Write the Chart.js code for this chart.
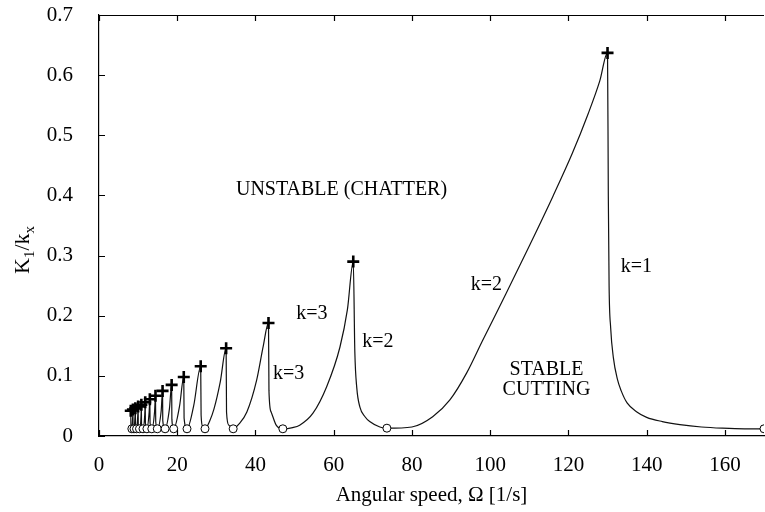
<!DOCTYPE html>
<html>
<head>
<meta charset="utf-8">
<script src="https://cdn.jsdelivr.net/npm/chart.js@4"></script>
<style>
  body { margin: 0; background: #fff; }
  #wrap { width: 765px; height: 512px; }
</style>
</head>
<body>
<div id="wrap"><canvas id="lobes"></canvas></div>
<script>
// stability boundary
var omega = [8.12, 8.15, 8.4, 8.6, 8.67, 8.7, 8.95, 9.2, 9.29, 9.32, 9.6, 9.9, 10.0, 10.04, 10.35, 10.75,
  10.83, 10.87, 11.25, 11.7, 11.82, 11.86, 12.25, 12.8, 13.0, 13.05, 13.5, 14.2, 14.44, 14.5, 14.9, 15.9,
  16.25, 16.3, 16.9, 18.0, 18.57, 18.63, 19.1, 20.6, 21.67, 21.75, 22.5, 24.2,
  26.0, 26.1, 26.5, 27.1, 28.3, 29.4, 31.0,
  32.5, 32.6, 33.2, 34.3, 35.8, 37.8, 40.3, 42.0,
  43.33, 43.45, 44.0, 45.3, 47.0, 49.5, 51.3, 54.7, 58.2, 61.6, 63.5,
  65.0, 65.4, 65.9, 66.7, 68.0, 69.2, 71.8, 73.6, 80.0, 85.3, 89.7, 94.0, 98.0, 104.0, 110.0, 116.0, 121.0, 125.0, 128.0,
  130.0, 130.2, 130.4, 130.8, 131.5, 132.5, 133.5, 135.0, 137.5, 140.0, 144.0, 148.5, 154.0, 159.4, 165.0, 170.0];
var ratio = [0.042, 0.02, 0.012, 0.03, 0.044, 0.02, 0.012, 0.032, 0.046, 0.02, 0.012, 0.033, 0.049, 0.02, 0.012, 0.034,
  0.052, 0.02, 0.012, 0.036, 0.056, 0.022, 0.012, 0.038, 0.061, 0.022, 0.012, 0.04, 0.067, 0.024, 0.012, 0.042,
  0.075, 0.026, 0.012, 0.045, 0.085, 0.028, 0.012, 0.05, 0.098, 0.03, 0.012, 0.05,
  0.116, 0.035, 0.016, 0.012, 0.025, 0.045, 0.09,
  0.146, 0.04, 0.018, 0.012, 0.02, 0.04, 0.093, 0.15,
  0.188, 0.075, 0.04, 0.018, 0.012, 0.014, 0.018, 0.038, 0.082, 0.148, 0.21,
  0.29, 0.14, 0.08, 0.048, 0.032, 0.024, 0.015, 0.013, 0.015, 0.032, 0.06, 0.105, 0.158, 0.236, 0.316, 0.398, 0.47, 0.535, 0.59,
  0.637, 0.40, 0.25, 0.18, 0.13, 0.095, 0.075, 0.055, 0.04, 0.031, 0.024, 0.019, 0.015, 0.013, 0.012, 0.012];

// lobe tops (+) and lobe bottoms (o)
var peakOmega = [8.12, 8.67, 9.29, 10.0, 10.83, 11.82, 13.0, 14.44, 16.25, 18.57, 21.67, 26.0, 32.5, 43.33, 65.0, 130.0];
var peakRatio = [0.042, 0.044, 0.046, 0.049, 0.052, 0.056, 0.061, 0.067, 0.075, 0.085, 0.098, 0.116, 0.146, 0.188, 0.29, 0.637];
var minOmega = [8.4, 8.95, 9.6, 10.35, 11.25, 12.25, 13.5, 14.9, 16.9, 19.1, 22.5, 27.1, 34.3, 47.0, 73.6, 170.0];
var minRatio = [0.012, 0.012, 0.012, 0.012, 0.012, 0.012, 0.012, 0.012, 0.012, 0.012, 0.012, 0.012, 0.012, 0.012, 0.013, 0.012];

var xTicks = [0, 20, 40, 60, 80, 100, 120, 140, 160];
var yTicks = [0, 0.1, 0.2, 0.3, 0.4, 0.5, 0.6, 0.7];

var notes = [
  { text: 'UNSTABLE (CHATTER)', x: 62, y: 0.409 },
  { text: 'k=3', x: 54.4, y: 0.203 },
  { text: 'k=3', x: 48.5, y: 0.103 },
  { text: 'k=2', x: 71.3, y: 0.156 },
  { text: 'k=2', x: 99, y: 0.251 },
  { text: 'STABLE', x: 114.4, y: 0.11 },
  { text: 'CUTTING', x: 114.4, y: 0.077 },
  { text: 'k=1', x: 137.4, y: 0.281 }
];

function pts(xs, ys) {
  return xs.map(function (v, i) { return { x: v, y: ys[i] }; });
}

var serif = 'Liberation Serif';

// inward tick marks, top frame line, y title with subscripts, labels in the plot
var extras = {
  id: 'extras',
  afterDraw: function (chart) {
    var ctx = chart.ctx;
    var a = chart.chartArea;
    var sx = chart.scales.x, sy = chart.scales.y;
    ctx.save();
    ctx.strokeStyle = '#000';
    ctx.lineWidth = 1.2;
    ctx.beginPath();
    ctx.moveTo(a.left, a.top + 0.5);
    ctx.lineTo(a.right, a.top + 0.5);
    xTicks.forEach(function (t) {
      var px = Math.round(sx.getPixelForValue(t)) + 0.5;
      ctx.moveTo(px, a.bottom); ctx.lineTo(px, a.bottom - 6);
      ctx.moveTo(px, a.top); ctx.lineTo(px, a.top + 6);
    });
    yTicks.forEach(function (t) {
      var py = Math.round(sy.getPixelForValue(t)) + 0.5;
      ctx.moveTo(a.left, py); ctx.lineTo(a.left + 6, py);
    });
    ctx.stroke();

    ctx.fillStyle = '#000';
    ctx.font = '20px ' + serif;
    ctx.textAlign = 'center';
    ctx.textBaseline = 'middle';
    notes.forEach(function (n) {
      ctx.fillText(n.text, sx.getPixelForValue(n.x), sy.getPixelForValue(n.y));
    });

    // K1/kx rotated
    var parts = [['K', 22, 0], ['1', 15, 5], ['/k', 22, 0], ['x', 15, 5]];
    var w = 0;
    parts.forEach(function (p) { ctx.font = p[1] + 'px ' + serif; w += ctx.measureText(p[0]).width; });
    ctx.translate(29, 250);
    ctx.rotate(-Math.PI / 2);
    ctx.textAlign = 'left';
    ctx.textBaseline = 'alphabetic';
    var cx = -w / 2;
    parts.forEach(function (p) {
      ctx.font = p[1] + 'px ' + serif;
      ctx.fillText(p[0], cx, p[2]);
      cx += ctx.measureText(p[0]).width;
    });
    ctx.restore();
  }
};

new Chart(document.getElementById('lobes'), {
  type: 'line',
  data: {
    datasets: [{
      data: pts(omega, ratio),
      borderColor: '#111',
      borderWidth: 1.2,
      pointRadius: 0,
      cubicInterpolationMode: 'monotone',
      order: 3
    }, {
      data: pts(minOmega, minRatio),
      showLine: false,
      pointStyle: 'circle',
      pointRadius: 4,
      pointBackgroundColor: '#fff',
      pointBorderColor: '#000',
      pointBorderWidth: 1,
      order: 2
    }, {
      data: pts(peakOmega, peakRatio),
      showLine: false,
      pointStyle: 'cross',
      pointRadius: 6,
      pointBorderColor: '#000',
      pointBorderWidth: 2.6,
      order: 1
    }]
  },
  options: {
    responsive: true,
    maintainAspectRatio: false,
    animation: false,
    layout: { autoPadding: false, padding: { top: 15, right: 1, left: 0, bottom: 0 } },
    plugins: { legend: { display: false }, tooltip: { enabled: false } },
    scales: {
      x: {
        type: 'linear',
        min: 0, max: 170,
        afterFit: function (s) { s.height = 76; s.paddingLeft = 0; s.paddingRight = 0; },
        grid: { display: false },
        border: { display: true, color: '#000', width: 1.2 },
        ticks: {
          stepSize: 20, includeBounds: false, padding: 9, maxRotation: 0,
          color: '#000', font: { family: serif, size: 21 }
        },
        title: {
          display: true, text: 'Angular speed, Ω [1/s]', color: '#000',
          font: { family: serif, size: 21 }, padding: { top: 4 }
        }
      },
      y: {
        min: 0, max: 0.7,
        afterFit: function (s) { s.width = 99; s.paddingTop = 0; s.paddingBottom = 0; },
        grid: { display: false },
        border: { display: true, color: '#000', width: 1.2 },
        ticks: { stepSize: 0.1, padding: 18, color: '#000', font: { family: serif, size: 21 } }
      }
    }
  },
  plugins: [extras]
});
</script>
</body>
</html>
